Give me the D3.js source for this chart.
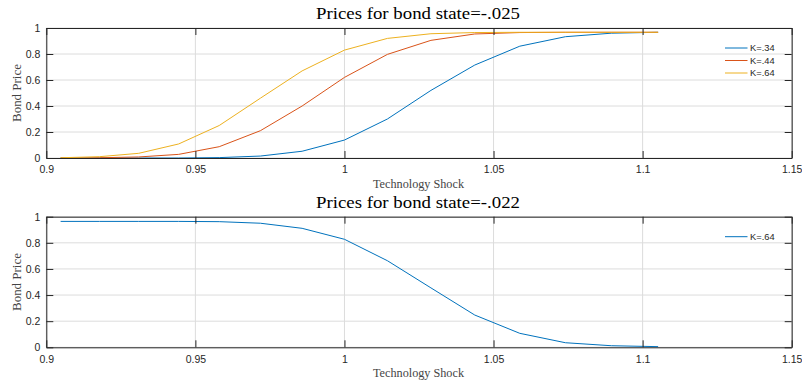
<!DOCTYPE html>
<html><head><meta charset="utf-8">
<script src="https://cdn.jsdelivr.net/npm/d3@7"></script>
<style>body{margin:0;background:#fff}</style></head>
<body><svg id="c" width="802" height="385"></svg>
<script>
const shock = [0.9048,0.9178,0.9310,0.9444,0.9580,0.9718,0.9858,1.0000,1.0144,1.0290,1.0437,1.0588,1.0741,1.0895,1.1052];
const priceK34 = [0,0,0,0,0.003,0.015,0.052,0.138,0.30,0.52,0.715,0.86,0.933,0.96,0.967];
const priceK44 = [0,0.002,0.008,0.028,0.087,0.21,0.40,0.62,0.797,0.905,0.954,0.965,0.967,0.967,0.967];
const priceK64 = [0.002,0.01,0.036,0.108,0.25,0.46,0.67,0.83,0.92,0.956,0.965,0.967,0.967,0.967,0.967];
const priceK64b = [0.964,0.964,0.964,0.964,0.962,0.95,0.911,0.827,0.663,0.455,0.247,0.107,0.035,0.012,0.005];
const xTicks = [0.9,0.95,1,1.05,1.1,1.15];
const yTicks = [0,0.2,0.4,0.6,0.8,1];
const titles = ["Prices for bond state=-.025","Prices for bond state=-.022"];
const xLabel = "Technology Shock";
const yLabel = "Bond Price";
const colors = ["#0072BD","#D95319","#EDB120"];

const svg = d3.select("#c");
const axisColor = "#262626";
const serif = "Liberation Serif, Times New Roman, serif";
const sans = "Liberation Sans, Arial, sans-serif";

function panel(top, bottom, title, series){
  const x = d3.scaleLinear().domain([0.9,1.15]).range([46.3,791.7]);
  const y = d3.scaleLinear().domain([0,1]).range([bottom, top]);
  const g = svg.append("g");
  // grid
  g.selectAll(".gx").data(xTicks).join("line")
    .attr("x1",d=>x(d)).attr("x2",d=>x(d)).attr("y1",top).attr("y2",bottom)
    .attr("stroke","#dcdcdc").attr("stroke-width",1);
  g.selectAll(".gy").data(yTicks).join("line")
    .attr("x1",x.range()[0]).attr("x2",x.range()[1]).attr("y1",d=>y(d)).attr("y2",d=>y(d))
    .attr("stroke","#dcdcdc").attr("stroke-width",1);
  // lines
  const line = d3.line().x((d,i)=>x(shock[i])).y(d=>y(d));
  series.forEach(s=>{
    g.append("path").datum(s.values).attr("d",line)
      .attr("fill","none").attr("stroke",s.color).attr("stroke-width",1);
  });
  // axes
  const fmt = d=>String(d);
  const styleAx = sel=>{
    sel.selectAll("path,line").attr("stroke",axisColor).attr("stroke-width",1);
    sel.selectAll("text").attr("fill",axisColor).attr("font-family",sans).attr("font-size",10.5);
  };
  g.append("g").attr("transform",`translate(0,${bottom})`)
    .call(d3.axisBottom(x).tickValues(xTicks).tickFormat(fmt).tickSizeInner(-7).tickSizeOuter(0).tickPadding(8))
    .call(styleAx);
  g.append("g").attr("transform",`translate(0,${top})`)
    .call(d3.axisTop(x).tickValues(xTicks).tickFormat("").tickSizeInner(-7).tickSizeOuter(0))
    .call(styleAx);
  g.append("g").attr("transform",`translate(${x.range()[0]},0)`)
    .call(d3.axisLeft(y).tickValues(yTicks).tickFormat(fmt).tickSizeInner(-7).tickSizeOuter(0).tickPadding(6))
    .call(styleAx);
  g.append("g").attr("transform",`translate(${x.range()[1]},0)`)
    .call(d3.axisRight(y).tickValues(yTicks).tickFormat("").tickSizeInner(-7).tickSizeOuter(0))
    .call(styleAx);
  // title & labels
  g.append("text").attr("x",418).attr("y",top-9).attr("text-anchor","middle")
    .attr("font-family",serif).attr("font-size",17.5).attr("fill","#000")
    .attr("textLength",204).attr("lengthAdjust","spacingAndGlyphs").text(title);
  g.append("text").attr("x",418.5).attr("y",bottom+29.5).attr("text-anchor","middle")
    .attr("font-family",serif).attr("font-size",11.5).attr("fill","#444")
    .attr("textLength",91).attr("lengthAdjust","spacingAndGlyphs").text(xLabel);
  g.append("text").attr("transform",`translate(20.5,${(top+bottom)/2}) rotate(-90)`).attr("text-anchor","middle")
    .attr("font-family",serif).attr("font-size",11.5).attr("fill","#444")
    .attr("textLength",58).attr("lengthAdjust","spacingAndGlyphs").text(yLabel);
  // legend
  series.forEach((s,i)=>{
    const ly = top + 20 + i*12.5;
    g.append("line").attr("x1",725).attr("x2",747.5).attr("y1",ly).attr("y2",ly)
      .attr("stroke",s.color).attr("stroke-width",1);
    g.append("text").attr("x",750).attr("y",ly+3.3)
      .attr("font-family",sans).attr("font-size",9.3).attr("fill","#262626").text(s.name);
  });
}

panel(28,158,titles[0],[
  {name:"K=.34",values:priceK34,color:colors[0]},
  {name:"K=.44",values:priceK44,color:colors[1]},
  {name:"K=.64",values:priceK64,color:colors[2]}
]);
panel(216.7,347.3,titles[1],[
  {name:"K=.64",values:priceK64b,color:colors[0]}
]);
</script></body></html>
